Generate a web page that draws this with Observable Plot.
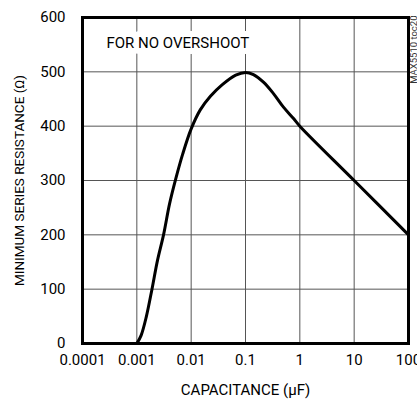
<!DOCTYPE html>
<html>
<head>
<meta charset="utf-8">
<script src="https://cdn.jsdelivr.net/npm/d3@7"></script>
<script src="https://cdn.jsdelivr.net/npm/@observablehq/plot@0.6"></script>
<style>
  html, body { margin: 0; padding: 0; background: white; }
</style>
</head>
<body>
<div id="chart"></div>
<script>
const capacitance = [0.001, 0.0012, 0.0015, 0.0019, 0.0024, 0.0031, 0.004, 0.0052, 0.007, 0.01, 0.0147, 0.0226, 0.037, 0.066, 0.1, 0.14, 0.214, 0.327, 0.5, 0.766, 1, 10, 100];
const resistance  = [0, 15, 50, 100, 153, 200, 257, 303, 349, 395, 430, 455, 476, 494, 499, 495, 481, 460, 435, 414, 400, 300, 200];
const xTicks = [0.0001, 0.001, 0.01, 0.1, 1, 10, 100];
const xTickLabels = ["0.0001", "0.001", "0.01", "0.1", "1", "10", "100"];
const yTicks = [0, 100, 200, 300, 400, 500, 600];
const xTitle = "CAPACITANCE (\u03BCF)";
const yTitle = "MINIMUM SERIES RESISTANCE (\u03A9)";
const note = "FOR NO OVERSHOOT";
const tag = "MAX5510 toc20";

const data = capacitance.map((c, i) => ({c, r: resistance[i]}));
const fmt = d => xTickLabels[xTicks.findIndex(t => Math.abs(Math.log10(t) - Math.log10(d)) < 1e-6)];

const chart = Plot.plot({
  width: 417,
  height: 402,
  marginLeft: 82,
  marginRight: 9,
  marginTop: 17,
  marginBottom: 59,
  style: {
    fontFamily: 'Roboto, "Liberation Sans", sans-serif',
    fontSize: "15px", color: "black", background: "white", overflow: "visible"
  },
  x: {type: "log", domain: [0.0001, 100]},
  y: {domain: [0, 600]},
  marks: [
    Plot.ruleX(xTicks, {stroke: "#555", strokeWidth: 1}),
    Plot.ruleY(yTicks, {stroke: "#555", strokeWidth: 1}),
    Plot.text([note], {frameAnchor: "top-left", dx: 24, dy: 26, textAnchor: "start", lineAnchor: "middle", fontSize: 15, fill: "black", stroke: "white", strokeWidth: 12}),
    Plot.axisX({ticks: xTicks, tickFormat: fmt, tickSize: 0, tickPadding: 11, label: null, fontSize: 15}),
    Plot.axisY({ticks: yTicks, tickSize: 0, tickPadding: 17, label: null, fontSize: 15}),
    Plot.text([xTitle], {frameAnchor: "bottom", dy: 47, textAnchor: "middle", lineAnchor: "middle", fontSize: 15}),
    Plot.text([yTitle], {frameAnchor: "left", dx: -63, rotate: -90, textAnchor: "middle", lineAnchor: "middle", fontSize: 13.5}),
    Plot.text([tag], {frameAnchor: "top-right", dx: 5, dy: -2, rotate: -90, textAnchor: "end", lineAnchor: "middle", fontSize: 9.5, fill: "#333"}),
    Plot.line(data, {x: "c", y: "r", curve: "catmull-rom", stroke: "black", strokeWidth: 3}),
    Plot.frame({stroke: "black", strokeWidth: 3})
  ]
});
document.getElementById("chart").append(chart);
</script>
</body>
</html>
